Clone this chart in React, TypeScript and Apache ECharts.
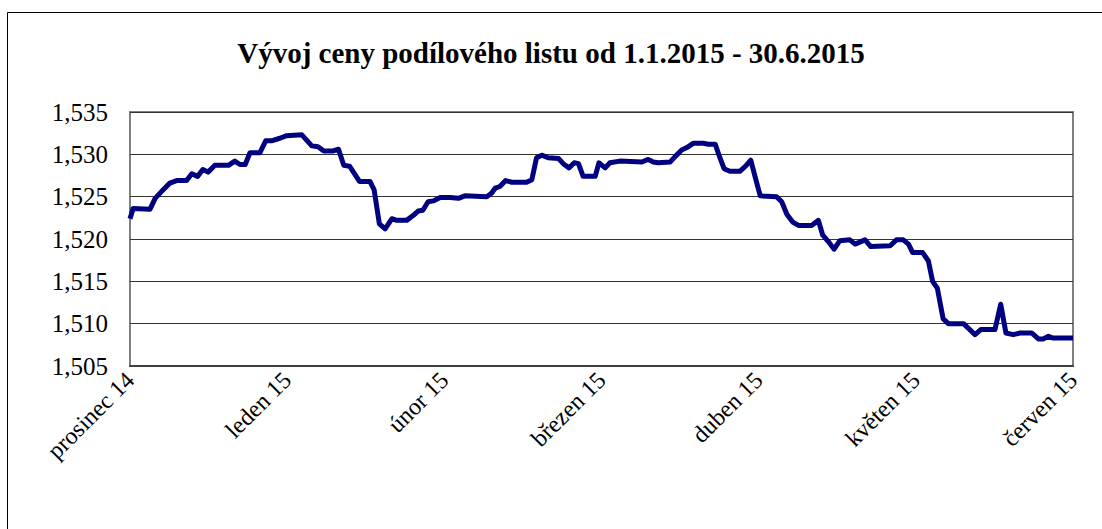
import React, { useEffect, useRef } from "react";
import * as echarts from "echarts";

const titleText = "Vývoj ceny podílového listu od 1.1.2015 - 30.6.2015";
const monthLabels = ["prosinec 14", "leden 15", "únor 15", "březen 15", "duben 15", "květen 15", "červen 15"];
// x position in days (30 per month on an evenly spaced month axis)
const days = [
  0, 0.6, 3.8, 4.8, 6.0, 7.6, 8.9, 10.8, 11.8, 12.9, 13.9, 14.9, 16.2, 18.8, 20.0, 21.0, 22.0, 22.9, 24.8, 25.9,
  27.0, 28.6, 29.9, 32.8, 34.7, 35.9, 37.0, 38.8, 39.8, 40.8, 41.9, 43.8, 45.8, 46.6, 47.6, 48.7, 50.0, 50.9,
  52.8, 54.1, 55.0, 55.9, 56.9, 57.9, 59.2, 61.1, 62.7, 63.9, 68.1, 69.0, 69.7, 70.6, 71.7, 72.9, 75.7, 76.7,
  77.6, 78.6, 79.8, 81.8, 82.7, 83.8, 84.8, 85.6, 86.5, 88.8, 89.5, 90.7, 91.6, 93.5, 97.7, 98.9, 99.9, 100.8,
  103.1, 104.0, 105.3, 106.3, 107.5, 109.4, 110.4, 111.7, 112.6, 113.4, 114.5, 116.4, 117.5, 118.5, 119.3,
  120.3, 123.4, 124.4, 125.4, 126.5, 127.6, 130.1, 131.4, 132.2, 133.3, 134.4, 135.5, 137.4, 138.4, 140.3,
  141.4, 145.1, 146.3, 147.6, 148.6, 149.4, 151.3, 152.4, 153.2, 154.1, 155.2, 156.2, 159.1, 160.3, 161.3,
  162.4, 165.1, 166.2, 167.2, 168.6, 169.9, 172.1, 173.4, 174.3, 175.3, 176.2, 180,
];
const prices = [
  1.5224, 1.5236, 1.5235, 1.5248, 1.5256, 1.5266, 1.5269, 1.5269, 1.5277, 1.5274, 1.5282, 1.5279, 1.5287, 1.5287,
  1.5292, 1.5288, 1.5288, 1.5302, 1.5302, 1.5316, 1.5316, 1.5319, 1.5322, 1.5323, 1.531, 1.5309, 1.5304, 1.5304,
  1.5306, 1.5287, 1.5286, 1.5268, 1.5268, 1.5258, 1.5218, 1.5212, 1.5224, 1.5222, 1.5222, 1.5228, 1.5233, 1.5234,
  1.5244, 1.5245, 1.5249, 1.5249, 1.5248, 1.5251, 1.525, 1.5254, 1.526, 1.5262, 1.5269, 1.5267, 1.5267, 1.527,
  1.5296, 1.5299, 1.5296, 1.5295, 1.5289, 1.5284, 1.529, 1.5289, 1.5274, 1.5274, 1.529, 1.5284, 1.529, 1.5292,
  1.5291, 1.5294, 1.5291, 1.529, 1.5291, 1.5297, 1.5305, 1.5308, 1.5313, 1.5313, 1.5312, 1.5312, 1.5296, 1.5283,
  1.528, 1.528, 1.5286, 1.5293, 1.5274, 1.5251, 1.525, 1.5244, 1.5229, 1.522, 1.5216, 1.5216, 1.5222, 1.5205,
  1.5197, 1.5188, 1.5198, 1.5199, 1.5194, 1.5199, 1.5191, 1.5192, 1.5199, 1.5199, 1.5194, 1.5184, 1.5184, 1.5174,
  1.515, 1.5142, 1.5106, 1.51, 1.51, 1.5093, 1.5087, 1.5093, 1.5093, 1.5123, 1.5089, 1.5087, 1.5089, 1.5089,
  1.5082, 1.5082, 1.5085, 1.5083, 1.5083,
];
const yTicks = { min: 1.505, max: 1.535, step: 0.005 };

const serif = "'Liberation Serif', 'Times New Roman', serif";

export default function App() {
  const ref = useRef<HTMLDivElement>(null);
  useEffect(() => {
    if (!ref.current) return;
    const chart = echarts.init(ref.current, null, { renderer: "svg" });
    const seriesData = days.map((d, i) => [d, prices[i]]);
    chart.setOption({
      animation: false,
      backgroundColor: "#ffffff",
      title: {
        text: titleText,
        left: "center",
        top: 33,
        textStyle: { fontFamily: serif, fontSize: 29, fontWeight: "bold", color: "#000" },
      },
      graphic: [
        {
          type: "rect",
          shape: { x: 7.5, y: 12.5, width: 1100, height: 540 },
          style: { fill: "none", stroke: "#000", lineWidth: 1 },
          silent: true,
        },
      ],
      grid: {
        left: 130,
        top: 112,
        right: 29,
        bottom: 163,
        show: true,
        borderColor: "#808080",
        borderWidth: 2,
      },
      xAxis: {
        type: "value",
        min: 0,
        max: 180,
        interval: 30,
        splitLine: { show: false },
        axisTick: { show: false },
        axisLine: { show: true, onZero: false, lineStyle: { color: "#404040", width: 2 } },
        axisLabel: {
          rotate: 45,
          margin: 10,
          fontFamily: serif,
          fontSize: 24,
          color: "#000",
          formatter: (v: number) => monthLabels[Math.round(v / 30)] ?? "",
        },
      },
      yAxis: {
        type: "value",
        min: yTicks.min,
        max: yTicks.max,
        interval: yTicks.step,
        axisLine: { show: false },
        axisTick: { show: false },
        splitLine: { show: true, lineStyle: { color: "#333", width: 1 } },
        axisLabel: {
          margin: 22,
          fontFamily: serif,
          fontSize: 25,
          color: "#000",
          formatter: (v: number) => v.toFixed(3).replace(".", ","),
        },
      },
      series: [
        {
          type: "line",
          data: seriesData,
          showSymbol: false,
          symbol: "none",
          clip: false,
          lineStyle: { color: "#000080", width: 5, join: "round" },
        },
      ],
    });
    return () => chart.dispose();
  }, []);
  return (
    <div
      ref={ref}
      style={{ position: "absolute", left: 0, top: 0, width: 1102, height: 529 }}
    />
  );
}
